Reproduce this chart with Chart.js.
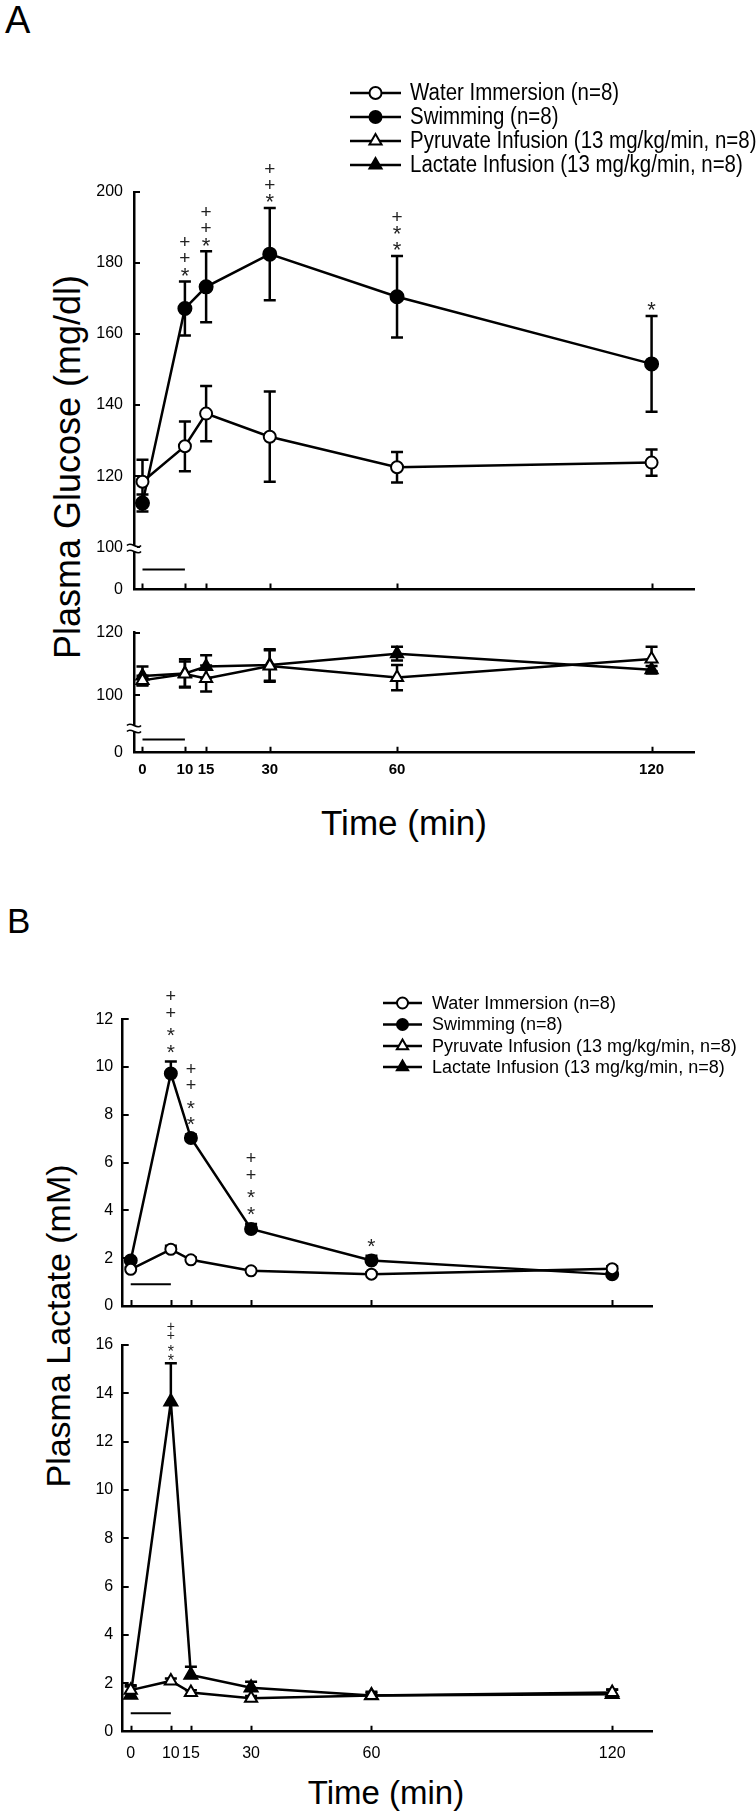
<!DOCTYPE html>
<html>
<head>
<meta charset="utf-8">
<script src="https://cdn.jsdelivr.net/npm/chart.js@4.4.1/dist/chart.umd.min.js"></script>
<style>
  html, body { margin: 0; padding: 0; background: #fff; }
  #fig { position: relative; width: 756px; height: 1817px; overflow: hidden;
         font-family: "Liberation Sans", Arial, Helvetica, sans-serif; color: #000; }
  #fig canvas { position: absolute; left: 0; }
  .txt { position: absolute; white-space: nowrap; line-height: 1; }
  .ytitle { position: absolute; white-space: nowrap; text-align: center; transform: rotate(-90deg); }
</style>
</head>
<body>
<div id="fig">
  <div class="txt" style="left:5px;top:1px;font-size:38px">A</div>
  <div class="txt" style="left:7px;top:903px;font-size:35px">B</div>
  <div class="ytitle" style="left:-182px;top:449px;width:500px;height:36px;line-height:36px;font-size:36px">Plasma Glucose (mg/dl)</div>
  <div class="ytitle" style="left:-192px;top:1309px;width:500px;height:34px;line-height:34px;font-size:34px">Plasma Lactate (mM)</div>
  <div class="txt" style="left:204px;top:805px;width:400px;text-align:center;font-size:35px">Time (min)</div>
  <div class="txt" style="left:186px;top:1776px;width:400px;text-align:center;font-size:33px">Time (min)</div>
  <canvas id="glucoseTop"></canvas>
  <canvas id="glucoseBottom"></canvas>
  <canvas id="lactateTop"></canvas>
  <canvas id="lactateBottom"></canvas>
</div>

<script>
// sampling times (min) and axis ticks
const times = [0, 10, 15, 30, 60, 120];
const timeTicks = [0, 10, 15, 30, 60, 120];
const infusionTimes = [0, 10];

const seriesLabels = [
  'Water Immersion (n=8)',
  'Swimming (n=8)',
  'Pyruvate Infusion (13 mg/kg/min, n=8)',
  'Lactate Infusion (13 mg/kg/min, n=8)'
];

// A: plasma glucose (mg/dl), mean and SEM
const glucoseWater = [118.4, 128.4, 137.6, 131.1, 122.5, 123.8];
const glucoseWaterSem = [6.2, 7.0, 7.8, 12.7, 4.3, 3.7];
const glucoseSwim = [112.4, 167.2, 173.3, 182.5, 170.5, 151.6];
const glucoseSwimSem = [2.4, 7.6, 10.0, 13.0, 11.5, 13.5];
const glucosePyruvate = [104.8, 106.8, 105.4, 109.4, 105.7, 111.6];
const glucosePyruvateSem = [1.5, 4.0, 4.1, 5.0, 4.0, 3.9];
const glucoseLactate = [106.2, 107.0, 109.2, 109.7, 113.3, 108.2];
const glucoseLactateSem = [3.0, 4.5, 3.6, 5.0, 2.2, 1.2];
const glucoseSwimMarks = [[10, '*++'], [15, '*++'], [30, '*++'], [60, '**+'], [120, '*']];

// B: plasma lactate (mM), mean and SEM
const lactateWater = [1.53, 2.37, 1.93, 1.47, 1.33, 1.56];
const lactateWaterSem = [0.1, 0.15, 0.1, 0.08, 0.08, 0.1];
const lactateSwim = [1.90, 9.73, 7.03, 3.22, 1.90, 1.32];
const lactateSwimSem = [0.1, 0.5, 0.15, 0.21, 0.2, 0.08];
const lactatePyruvate = [1.72, 2.10, 1.62, 1.38, 1.50, 1.62];
const lactatePyruvateSem = [0.15, 0.1, 0.1, 0.1, 0.1, 0.12];
const lactateLactate = [1.52, 13.65, 2.35, 1.82, 1.50, 1.55];
const lactateLactateSem = [0.4, 1.6, 0.34, 0.25, 0.15, 0.2];
const lactateSwimMarks = [[10, '**++'], [15, '**++'], [30, '**++'], [60, '*']];
const lactateLactateMarks = [[10, '**++']];

// y ticks; the broken glucose axes start at a value shown as "0"
const glucoseTopTicks = [100, 120, 140, 160, 180, 200];
const glucoseBottomTicks = [100, 120];
const lactateTopTicks = [0, 2, 4, 6, 8, 10, 12];
const lactateBottomTicks = [0, 2, 4, 6, 8, 10, 12, 14, 16];

// level of the 0-10 min bar in each panel
const glucoseTopBar = 93.7;
const glucoseBottomBar = 86.0;
const lactateTopBar = 0.91;
const lactateBottomBar = 0.76;

const FONT = '"Liberation Sans", Arial, Helvetica, sans-serif';
Chart.defaults.font.family = FONT;
Chart.defaults.color = '#000';

const openCircle = { pointStyle: 'circle', fill: '#fff' };
const filledCircle = { pointStyle: 'circle', fill: '#000' };
const openTriangle = { pointStyle: 'triangle', fill: '#fff' };
const filledTriangle = { pointStyle: 'triangle', fill: '#000' };
const keyStyles = [openCircle, filledCircle, openTriangle, filledTriangle];

function series(values, sem, style, radius) {
  return {
    data: times.map((t, i) => ({ x: t, y: values[i] })),
    sem,
    borderColor: '#000',
    borderWidth: 2.5,
    pointStyle: style.pointStyle,
    pointRadius: radius,
    pointBackgroundColor: style.fill,
    pointBorderColor: '#000',
    pointBorderWidth: 2,
    tension: 0,
    fill: false
  };
}

function infusionBar(level) {
  return {
    data: infusionTimes.map((t) => ({ x: t, y: level })),
    borderColor: '#000',
    borderWidth: 2,
    pointRadius: 0,
    fill: false
  };
}

// vertical SEM bars, drawn under the markers
function errorBars(upOnly) {
  return {
    id: 'errorBars',
    beforeDatasetsDraw(chart) {
      const { ctx, scales: { x, y } } = chart;
      ctx.save();
      ctx.strokeStyle = '#000';
      ctx.lineWidth = 2.5;
      chart.data.datasets.forEach((ds) => {
        if (!ds.sem) return;
        ds.data.forEach((p, i) => {
          const px = x.getPixelForValue(p.x);
          const top = y.getPixelForValue(p.y + ds.sem[i]);
          const bot = y.getPixelForValue(upOnly ? p.y : p.y - ds.sem[i]);
          ctx.beginPath();
          ctx.moveTo(px, top); ctx.lineTo(px, bot);
          ctx.moveTo(px - 6, top); ctx.lineTo(px + 6, top);
          if (!upOnly) { ctx.moveTo(px - 6, bot); ctx.lineTo(px + 6, bot); }
          ctx.stroke();
        });
      });
      ctx.restore();
    }
  };
}

// inward tick marks and the axis break symbol
function axisDecor(breakAt) {
  return {
    id: 'axisDecor',
    afterDraw(chart) {
      const { ctx, chartArea: a, scales: { x, y } } = chart;
      ctx.save();
      ctx.strokeStyle = '#000';
      ctx.lineWidth = 2;
      ctx.beginPath();
      x.ticks.forEach((t) => {
        const px = Math.round(x.getPixelForValue(t.value)) + 0.5;
        ctx.moveTo(px, a.bottom); ctx.lineTo(px, a.bottom - 6);
      });
      y.ticks.forEach((t) => {
        if (t.value === y.min) return;
        const py = Math.round(y.getPixelForValue(t.value));
        ctx.moveTo(a.left, py); ctx.lineTo(a.left + 6, py);
      });
      ctx.stroke();
      if (breakAt != null) {
        const py = y.getPixelForValue(breakAt);
        ctx.fillStyle = '#fff';
        ctx.fillRect(a.left - 3, py - 3, 6, 6);
        ctx.lineWidth = 1.6;
        ctx.beginPath();
        [-3, 3].forEach((d) => {
          const x0 = a.left - 7, yy = py + d;
          ctx.moveTo(x0, yy);
          ctx.bezierCurveTo(x0 + 4, yy - 5, x0 + 10, yy + 5, x0 + 14, yy);
        });
        ctx.stroke();
      }
      ctx.restore();
    }
  };
}

// significance symbols stacked above the SEM bar (read bottom-up)
function sigMarks(cfg) {
  return {
    id: 'sigMarks',
    afterDatasetsDraw(chart) {
      if (!cfg) return;
      const { ctx, scales: { x, y } } = chart;
      const ds = chart.data.datasets[cfg.dataset];
      ctx.save();
      ctx.fillStyle = '#222';
      ctx.textAlign = 'center';
      ctx.textBaseline = 'alphabetic';
      cfg.list.forEach(([t, symbols]) => {
        const i = times.indexOf(t);
        const px = x.getPixelForValue(t);
        let cy = y.getPixelForValue(ds.data[i].y + ds.sem[i]) - cfg.gap;
        [...symbols].forEach((s, k) => {
          if (k > 0) cy -= cfg.step + (s !== symbols[k - 1] ? cfg.switchStep : 0);
          ctx.font = `${s === '*' ? cfg.starSize : cfg.size}px ${FONT}`;
          const m = ctx.measureText(s);
          ctx.fillText(s, px, cy + (m.actualBoundingBoxAscent - m.actualBoundingBoxDescent) / 2);
        });
      });
      ctx.restore();
    }
  };
}

// line + marker key, positions given in page pixels
function seriesKey(cfg, canvasTop) {
  return {
    id: 'seriesKey',
    afterDraw(chart) {
      if (!cfg) return;
      const ctx = chart.ctx;
      ctx.save();
      ctx.font = `${cfg.size}px ${FONT}`;
      ctx.textBaseline = 'middle';
      seriesLabels.forEach((label, i) => {
        const yy = cfg.rows[i] - canvasTop;
        const st = keyStyles[i];
        ctx.strokeStyle = '#000';
        ctx.lineWidth = 2.5;
        ctx.beginPath();
        ctx.moveTo(cfg.left, yy); ctx.lineTo(cfg.left + cfg.lineLen, yy);
        ctx.stroke();
        ctx.fillStyle = st.fill;
        ctx.lineWidth = 2;
        Chart.helpers.drawPoint(ctx, {
          pointStyle: st.pointStyle,
          radius: st.pointStyle === 'circle' ? cfg.circle : cfg.triangle,
          rotation: 0, borderWidth: 2
        }, cfg.left + cfg.lineLen / 2, yy);
        ctx.fillStyle = '#000';
        // the key text is set in a slightly narrowed face
        ctx.save();
        ctx.translate(cfg.textX, yy + 1);
        ctx.scale(cfg.squeeze, 1);
        ctx.fillText(label, 0, 0);
        ctx.restore();
      });
      ctx.restore();
    }
  };
}

function makePanel(id, p) {
  const canvas = document.getElementById(id);
  canvas.width = 756;
  canvas.height = p.height;
  canvas.style.top = p.top + 'px';
  canvas.style.width = '756px';
  canvas.style.height = p.height + 'px';
  const yVals = p.yTicks.includes(p.yMin) ? p.yTicks : [p.yMin].concat(p.yTicks);
  return new Chart(canvas, {
    type: 'line',
    data: { datasets: p.datasets },
    options: {
      responsive: false,
      animation: false,
      events: [],
      layout: { padding: { top: p.padTop, right: p.padRight, left: 0, bottom: 0 } },
      plugins: { legend: { display: false }, tooltip: { enabled: false } },
      scales: {
        x: {
          type: 'linear', min: -2, max: 130,
          afterBuildTicks: (s) => { s.ticks = timeTicks.map((v) => ({ value: v })); },
          afterFit: (s) => { s.height = p.xHeight; },
          grid: { display: false, drawTicks: false },
          border: { color: '#000', width: 2.5 },
          ticks: {
            display: p.xLabels, autoSkip: false, maxRotation: 0, minRotation: 0,
            padding: p.xPad, font: p.xFont, color: '#000'
          }
        },
        y: {
          type: 'linear', min: p.yMin, max: p.yMax,
          afterBuildTicks: (s) => { s.ticks = yVals.map((v) => ({ value: v })); },
          afterFit: (s) => { s.width = p.yWidth; },
          grid: { display: false, drawTicks: false },
          border: { color: '#000', width: 2.5 },
          ticks: {
            padding: p.yPad, font: { size: 16 }, color: '#000',
            callback: (v) => (v === p.yMin ? '0' : String(v))
          }
        }
      }
    },
    plugins: [errorBars(p.upOnly), axisDecor(p.breakAt), sigMarks(p.marks), seriesKey(p.key, p.top)]
  });
}

makePanel('glucoseTop', {
  top: 70, height: 540, padTop: 122, padRight: 62, yWidth: 134, xHeight: 12,
  yMin: 88.1, yMax: 200, yTicks: glucoseTopTicks, yPad: 11, breakAt: 99.6,
  xLabels: false, upOnly: false,
  datasets: [
    series(glucoseWater, glucoseWaterSem, openCircle, 6),
    series(glucoseSwim, glucoseSwimSem, filledCircle, 6.5),
    infusionBar(glucoseTopBar)
  ],
  marks: { dataset: 1, list: glucoseSwimMarks, size: 19, starSize: 22, gap: 9.5, step: 16, switchStep: -1.5 },
  key: { left: 350, lineLen: 51, textX: 410, rows: [93, 117, 141, 165], size: 23, squeeze: 0.89, circle: 6, triangle: 7 }
});

makePanel('glucoseBottom', {
  top: 612, height: 178, padTop: 11.3, padRight: 62, yWidth: 134, xHeight: 37.3,
  yMin: 81.8, yMax: 120, yTicks: glucoseBottomTicks, yPad: 11, breakAt: 89.5,
  xLabels: true, xPad: 8, xFont: { size: 15, weight: 'bold' }, upOnly: false,
  datasets: [
    series(glucosePyruvate, glucosePyruvateSem, openTriangle, 7),
    series(glucoseLactate, glucoseLactateSem, filledTriangle, 7),
    infusionBar(glucoseBottomBar)
  ]
});

makePanel('lactateTop', {
  top: 960, height: 365, padTop: 59.3, padRight: 103.7, yWidth: 122.7, xHeight: 11.7,
  yMin: 0, yMax: 12, yTicks: lactateTopTicks, yPad: 9.5,
  xLabels: false, upOnly: true,
  datasets: [
    series(lactateWater, lactateWaterSem, openCircle, 5.5),
    series(lactateSwim, lactateSwimSem, filledCircle, 6),
    infusionBar(lactateTopBar)
  ],
  marks: { dataset: 1, list: lactateSwimMarks, size: 18, starSize: 21, gap: 13, step: 16.5, switchStep: 4 },
  key: { left: 383, lineLen: 39, textX: 432, rows: [1003, 1024.5, 1046, 1067], size: 18, squeeze: 1, circle: 5.5, triangle: 6.5 }
});

makePanel('lactateBottom', {
  top: 1316, height: 466, padTop: 29, padRight: 103.7, yWidth: 122.7, xHeight: 50.3,
  yMin: 0, yMax: 16, yTicks: lactateBottomTicks, yPad: 9.5,
  xLabels: true, xPad: 12.4, xFont: { size: 16 }, upOnly: true,
  datasets: [
    series(lactatePyruvate, lactatePyruvateSem, openTriangle, 7),
    series(lactateLactate, lactateLactateSem, filledTriangle, 7.5),
    infusionBar(lactateBottomBar)
  ],
  marks: { dataset: 1, list: lactateLactateMarks, size: 14, starSize: 16, gap: 6, step: 9, switchStep: 4 }
});
</script>
</body>
</html>
